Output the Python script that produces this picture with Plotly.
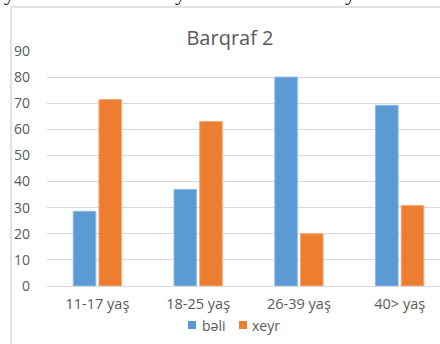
import plotly.graph_objects as go

# Survey answers by age group (percent)
categories = ["11-17 yaş", "18-25 yaş", "26-39 yaş", "40> yaş"]
beli = [28.6, 37, 80, 69.2]
xeyr = [71.4, 63, 20, 30.8]
y_ticks = [0, 10, 20, 30, 40, 50, 60, 70, 80, 90]

series_names = ["bəli", "xeyr"]
series_colors = ["#5B9BD5", "#ED7D31"]
edge_colors = ["#8FBCE6", "#F4A877"]

W, H = 440, 344
L, R, T, B = 47, 0, 51, 58
pw, ph = W - L - R, H - T - B


def px(x):
    return (x - L) / pw


def py(y):
    return (H - B - y) / ph


fig = go.Figure()
for name, vals, col, edge in zip(series_names, [beli, xeyr], series_colors, edge_colors):
    fig.add_trace(go.Bar(
        name=name, x=categories, y=vals,
        marker=dict(color=col, line=dict(color=edge, width=1)),
    ))

font_family = "Open Sans, Liberation Sans, sans-serif"
grey = "#595959"

shapes = [
    # chart frame edges
    dict(type="line", xref="paper", yref="paper",
         x0=px(11), x1=px(W + 5), y0=py(7), y1=py(7),
         line=dict(color="#D9D9D9", width=1.5)),
    dict(type="line", xref="paper", yref="paper",
         x0=px(11), x1=px(11), y0=py(7), y1=py(H + 5),
         line=dict(color="#D9D9D9", width=1.5)),
]

annotations = []
# compact legend below the axis: square swatch followed by the series name
legend_items = [(188, 200), (239, 250)]
for (sx, tx), name, col in zip(legend_items, series_names, series_colors):
    shapes.append(dict(type="rect", xref="paper", yref="paper",
                       x0=px(sx), x1=px(sx + 8), y0=py(321), y1=py(329),
                       fillcolor=col, line=dict(width=0)))
    annotations.append(dict(text=name, xref="paper", yref="paper",
                            x=px(tx), y=py(325), xanchor="left", yanchor="middle",
                            showarrow=False,
                            font=dict(size=14, color=grey, family=font_family)))

# surrounding document text just above the chart
for xpos in [9, 180, 350]:
    annotations.append(dict(text="y", xref="paper", yref="paper",
                            x=px(xpos), y=py(7), xanchor="center", yanchor="bottom",
                            showarrow=False,
                            font=dict(size=22, color="#111111",
                                      family="Liberation Serif, serif")))

fig.update_layout(
    width=W, height=H,
    margin=dict(l=L, r=R, t=T, b=B),
    paper_bgcolor="white", plot_bgcolor="white",
    barmode="group", bargap=0.49, bargroupgap=0.12,
    font=dict(family=font_family, color=grey, size=12),
    title=dict(text="Barqraf 2", xref="container", x=230 / W, xanchor="center",
               yref="container", y=1 - 38 / H, yanchor="middle",
               font=dict(size=20, color=grey, family=font_family)),
    showlegend=False,
    xaxis=dict(range=[-0.5, 3.4], showgrid=False, showline=False,
               ticks="", ticklabelstandoff=7,
               tickfont=dict(size=14.5, color=grey)),
    yaxis=dict(range=[0, 90], tickvals=y_ticks, showgrid=True,
               gridcolor="#D9D9D9", gridwidth=1,
               zeroline=True, zerolinecolor="#D9D9D9", zerolinewidth=1,
               showline=False, ticks="", ticklabelstandoff=16,
               tickfont=dict(size=14, color=grey)),
    shapes=shapes,
    annotations=annotations,
)

fig.write_html("out.html")
